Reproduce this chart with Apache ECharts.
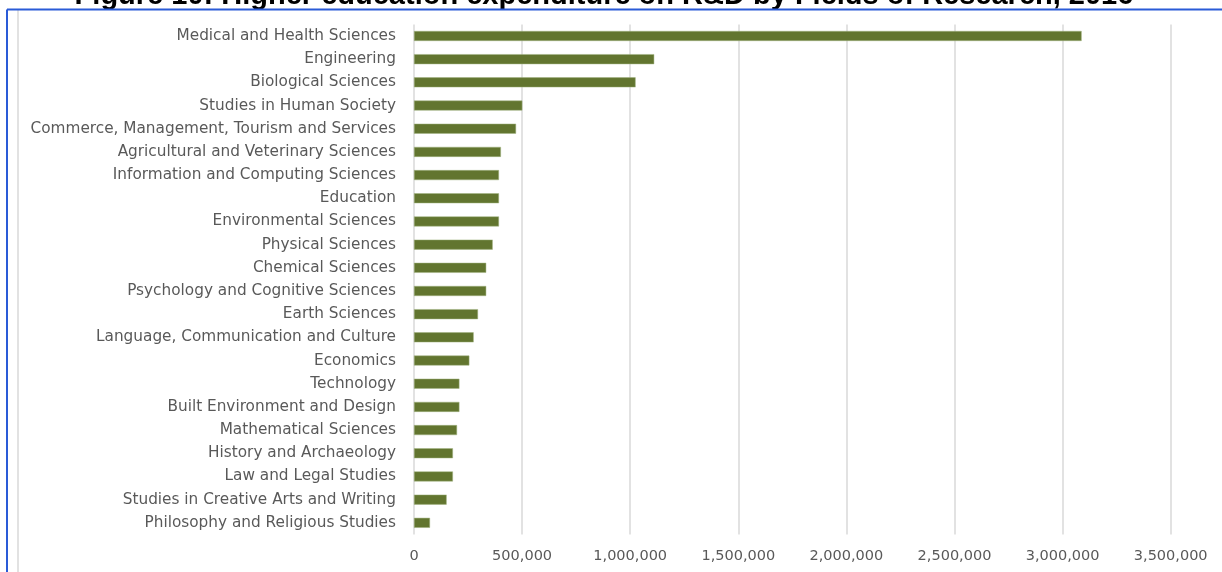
<!DOCTYPE html>
<html>
<head>
<meta charset="utf-8">
<script src="https://cdn.jsdelivr.net/npm/echarts@6/dist/echarts.min.js"></script>
<style>
html,body{margin:0;padding:0;background:#fff;}
#chart{width:1222px;height:572px;}
</style>
</head>
<body>
<div id="chart"></div>
<script>
var titleText = 'Figure 10: Higher education expenditure on R&D by Fields of Research, 2016';
var categories = [
  'Medical and Health Sciences',
  'Engineering',
  'Biological Sciences',
  'Studies in Human Society',
  'Commerce, Management, Tourism and Services',
  'Agricultural and Veterinary Sciences',
  'Information and Computing Sciences',
  'Education',
  'Environmental Sciences',
  'Physical Sciences',
  'Chemical Sciences',
  'Psychology and Cognitive Sciences',
  'Earth Sciences',
  'Language, Communication and Culture',
  'Economics',
  'Technology',
  'Built Environment and Design',
  'Mathematical Sciences',
  'History and Archaeology',
  'Law and Legal Studies',
  'Studies in Creative Arts and Writing',
  'Philosophy and Religious Studies'
];
var expenditure = [
  3088000, 1111000, 1025000, 501000, 472000, 402000, 393000, 393000, 393000,
  364000, 334000, 334000, 296000, 276000, 256000, 210000, 210000, 199000,
  180000, 180000, 151000, 74000
];
var xMin = 0, xMax = 3500000, xStep = 500000;

var chart = echarts.init(document.getElementById('chart'), null, {renderer: 'canvas'});
var labelFont = '"DejaVu Sans", sans-serif';
chart.setOption({
  backgroundColor: '#ffffff',
  animation: false,
  graphic: [
    {type: 'text', x: 604, y: 10, z: 10,
     style: {text: titleText, font: 'bold 29px "Liberation Sans", Arial, sans-serif', fill: '#000000',
             align: 'center', verticalAlign: 'bottom'}},
    {type: 'line', shape: {x1: 18, y1: 10, x2: 18, y2: 572}, style: {stroke: '#d9d9d9', lineWidth: 1.5}},
    {type: 'line', shape: {x1: 7, y1: 9.5, x2: 1222, y2: 9.5}, z: 20, style: {stroke: '#2a5bd7', lineWidth: 2}},
    {type: 'line', shape: {x1: 7, y1: 9.5, x2: 7, y2: 572}, z: 20, style: {stroke: '#2a5bd7', lineWidth: 2}}
  ],
  grid: {left: 414, right: 51.3, top: 24.4, bottom: 37.6, containLabel: false},
  xAxis: {
    type: 'value', min: xMin, max: xMax, interval: xStep,
    axisLine: {show: false}, axisTick: {show: false},
    splitLine: {show: true, lineStyle: {color: '#d9d9d9', width: 1.5}},
    axisLabel: {
      color: '#595959', fontSize: 14.5, fontFamily: labelFont, margin: 14,
      formatter: function (v) { return v.toLocaleString('en-US'); }
    }
  },
  yAxis: {
    type: 'category', data: categories, inverse: true,
    axisLine: {show: false}, axisTick: {show: false},
    axisLabel: {color: '#595959', fontSize: 15.3, fontFamily: labelFont, margin: 18}
  },
  series: [{
    type: 'bar', data: expenditure, barWidth: 10,
    itemStyle: {color: '#62752f', borderColor: '#a3b483', borderWidth: 0.5}
  }]
});
</script>
</body>
</html>
